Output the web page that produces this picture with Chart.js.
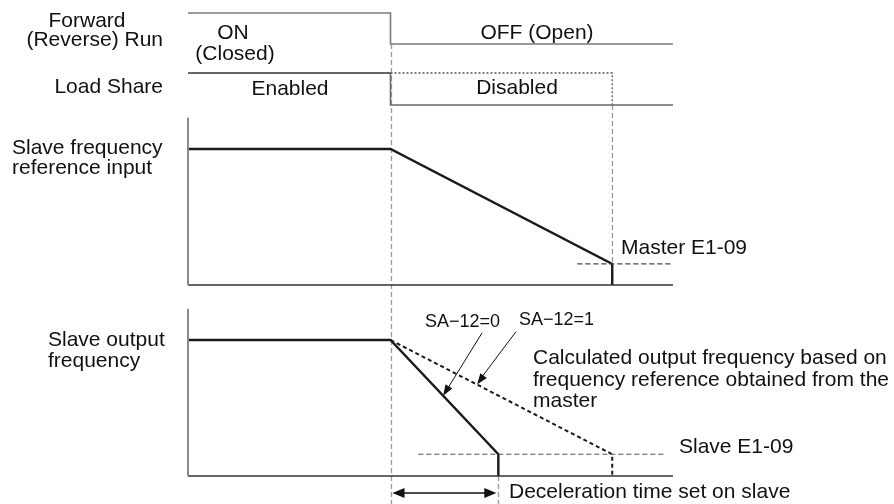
<!DOCTYPE html>
<html>
<head>
<meta charset="utf-8">
<script src="https://cdn.jsdelivr.net/npm/chart.js@4.4.1/dist/chart.umd.min.js"></script>
<style>
  html, body { margin: 0; padding: 0; background: #fff; }
  #wrap { position: relative; width: 894px; height: 504px; }
</style>
</head>
<body>
<div id="wrap"><canvas id="timingChart" width="894" height="504"></canvas></div>
<script>
// time axis (arbitrary units): start, run off, slave stop, master stop, end
const tStart = 0, tOff = 4, tSlaveStop = 6.13, tMasterStop = 8.38, tEnd = 9.58;

// Forward (Reverse) Run signal
const runT = [tStart, tOff, tOff, tEnd];
const runY = [1, 1, 0, 0];

// Load Share signal (solid) + master-side dotted continuation
const loadT = [tStart, tOff, tOff, tEnd];
const loadY = [1, 1, 0, 0];
const loadDotT = [tOff, tMasterStop, tMasterStop];
const loadDotY = [1, 1, 0];

// Slave frequency reference input
const refT = [tStart, tOff, tMasterStop, tMasterStop];
const refY = [1, 1, 0.155, 0];

// Slave output frequency, SA-12=0 (solid) and SA-12=1 (dotted)
const outT = [tStart, tOff, tSlaveStop, tSlaveStop];
const outY = [1, 1, 0.16, 0];
const calcT = [tOff, tMasterStop, tMasterStop];
const calcY = [1, 0.16, 0];

// E1-09 minimum frequency levels (dashed)
const masterMinT = [7.69, 9.55];
const masterMinY = [0.155, 0.155];
const slaveMinT = [4.55, 9.39];
const slaveMinY = [0.16, 0.16];

// axes of the two frequency plots
const axisT = [tStart, tStart, tEnd];
const axisY = [1.23, 0, 0];

const W = 894, H = 504;
const FONT = '"Liberation Sans", Arial, sans-serif';

// pixel band helpers (layout only)
function band(topPx, botPx) {
    const unit = botPx - topPx;
    const max = 1 + topPx / unit;
    return { min: max - H / unit, max: max };
}
const xUnit = (390.5 - 188) / (tOff - tStart);
const xRange = { min: -188 / xUnit, max: (W - 188) / xUnit };

const zip = (xs, ys) => xs.map((x, i) => ({ x: x, y: ys[i] }));

function ds(xs, ys, axis, color, width, dash) {
    return {
        data: zip(xs, ys),
        yAxisID: axis,
        borderColor: color,
        borderWidth: width,
        borderDash: dash || [],
        pointRadius: 0,
        tension: 0,
        fill: false,
        borderCapStyle: 'butt',
        borderJoinStyle: 'miter'
    };
}

function arrowHead(ctx, x1, y1, x2, y2, len, half) {
    const a = Math.atan2(y2 - y1, x2 - x1);
    ctx.beginPath();
    ctx.moveTo(x2, y2);
    ctx.lineTo(x2 - len * Math.cos(a) + half * Math.sin(a), y2 - len * Math.sin(a) - half * Math.cos(a));
    ctx.lineTo(x2 - len * Math.cos(a) - half * Math.sin(a), y2 - len * Math.sin(a) + half * Math.cos(a));
    ctx.closePath();
    ctx.fill();
}

function lerp(xs, ys, t) {
    for (let i = 0; i < xs.length - 1; i++) {
        if (t >= xs[i] && t <= xs[i + 1] && xs[i + 1] !== xs[i]) {
            const f = (t - xs[i]) / (xs[i + 1] - xs[i]);
            return ys[i] + f * (ys[i + 1] - ys[i]);
        }
    }
    return ys[0];
}

const guidePlugin = {
    id: 'guides',
    beforeDatasetsDraw(chart) {
        const { ctx, scales } = chart;
        const x = scales.x;
        ctx.save();
        ctx.strokeStyle = '#9a9a9a';
        ctx.lineWidth = 1.3;
        ctx.setLineDash([5, 3]);
        const vline = (t, y1, y2) => {
            const px = Math.round(x.getPixelForValue(t)) + 0.5;
            ctx.beginPath();
            ctx.moveTo(px, y1);
            ctx.lineTo(px, y2);
            ctx.stroke();
        };
        vline(tOff, scales.yRun.getPixelForValue(0), chart.chartArea.bottom);
        vline(tMasterStop, scales.yLoad.getPixelForValue(0), scales.yRef.getPixelForValue(refY[2]));
        vline(tSlaveStop, scales.yOut.getPixelForValue(0), chart.chartArea.bottom);
        ctx.restore();
    },
    afterDraw(chart) {
        const { ctx, scales } = chart;
        const x = scales.x, yOut = scales.yOut;
        ctx.save();
        ctx.fillStyle = '#111';
        ctx.strokeStyle = '#111';

        // deceleration time arrow
        const ay = yOut.getPixelForValue(-0.125);
        const ax1 = x.getPixelForValue(tOff) + 2, ax2 = x.getPixelForValue(tSlaveStop) - 2;
        ctx.lineWidth = 1.3;
        ctx.beginPath();
        ctx.moveTo(ax1 + 8, ay);
        ctx.lineTo(ax2 - 8, ay);
        ctx.stroke();
        arrowHead(ctx, ax2, ay, ax1, ay, 12, 5);
        arrowHead(ctx, ax1, ay, ax2, ay, 12, 5);

        // SA-12 callout arrows
        ctx.lineWidth = 1;
        const call = (xs, ys, t, dx, dy) => {
            const tx = x.getPixelForValue(t), ty = yOut.getPixelForValue(lerp(xs, ys, t));
            ctx.beginPath();
            ctx.moveTo(tx + dx, ty + dy);
            ctx.lineTo(tx + 4, ty - 6.5);
            ctx.stroke();
            arrowHead(ctx, tx + dx, ty + dy, tx, ty, 11, 4);
        };
        call(outT, outY, 5.04, 39, -63);
        call(calcT, calcY, 5.71, 39, -53);

        // texts
        ctx.textBaseline = 'middle';
        ctx.font = '21px ' + FONT;
        const txt = (s, px, py, align) => {
            ctx.textAlign = align || 'left';
            ctx.fillText(s, px, py);
        };
        txt('Forward', 87, 21, 'center');
        txt('(Reverse) Run', 163, 40, 'right');
        txt('ON', 233, 33, 'center');
        txt('(Closed)', 235, 54, 'center');
        txt('OFF (Open)', 537, 33, 'center');
        txt('Load Share', 163, 87, 'right');
        txt('Enabled', 290, 89, 'center');
        txt('Disabled', 517, 88, 'center');
        txt('Slave frequency', 12, 148);
        txt('reference input', 12, 168);
        txt('Master E1-09', 621, 248);
        txt('Slave output', 48, 340);
        txt('frequency', 48, 361);
        txt('Calculated output frequency based on', 533, 358);
        txt('frequency reference obtained from the', 533, 380);
        txt('master', 533, 401);
        txt('Slave E1-09', 679, 447);
        txt('Deceleration time set on slave', 509, 492);
        ctx.font = '18px ' + FONT;
        txt('SA\u221212=0', 425, 322);
        txt('SA\u221212=1', 519, 320);
        ctx.restore();
    }
};

const ctx = document.getElementById('timingChart').getContext('2d');

new Chart(ctx, {
    type: 'line',
    data: {
        datasets: [
            ds(runT, runY, 'yRun', '#7a7a7a', 1.6),
            ds(loadT.slice(0, 2), loadY.slice(0, 2), 'yLoad', '#333', 1.6),
            ds(loadT.slice(1), loadY.slice(1), 'yLoad', '#6a6a6a', 1.6),
            ds(loadDotT, loadDotY, 'yLoad', '#555', 1.3, [2, 2]),
            ds(axisT.slice(0, 2), axisY.slice(0, 2), 'yRef', '#8a8a8a', 2),
            ds(axisT.slice(1), axisY.slice(1), 'yRef', '#333', 1.5),
            ds(masterMinT, masterMinY, 'yRef', '#444', 1.2, [5, 3]),
            ds(refT, refY, 'yRef', '#1a1a1a', 2.4),
            ds(axisT.slice(0, 2), axisY.slice(0, 2), 'yOut', '#8a8a8a', 2),
            ds(axisT.slice(1), axisY.slice(1), 'yOut', '#333', 1.5),
            ds(slaveMinT, slaveMinY, 'yOut', '#555', 1.2, [5, 3]),
            ds(calcT, calcY, 'yOut', '#1a1a1a', 2, [4, 3]),
            ds(outT, outY, 'yOut', '#1a1a1a', 2.4)
        ]
    },
    options: {
        responsive: false,
        animation: false,
        devicePixelRatio: 1,
        layout: { padding: 0 },
        events: [],
        plugins: { legend: { display: false }, tooltip: { enabled: false } },
        scales: {
            x: { type: 'linear', display: false, min: xRange.min, max: xRange.max },
            yRun: { type: 'linear', display: false, ...band(13, 44) },
            yLoad: { type: 'linear', display: false, ...band(73, 105) },
            yRef: { type: 'linear', display: false, ...band(149, 285) },
            yOut: { type: 'linear', display: false, ...band(340, 476) }
        }
    },
    plugins: [guidePlugin]
});
</script>
</body>
</html>
